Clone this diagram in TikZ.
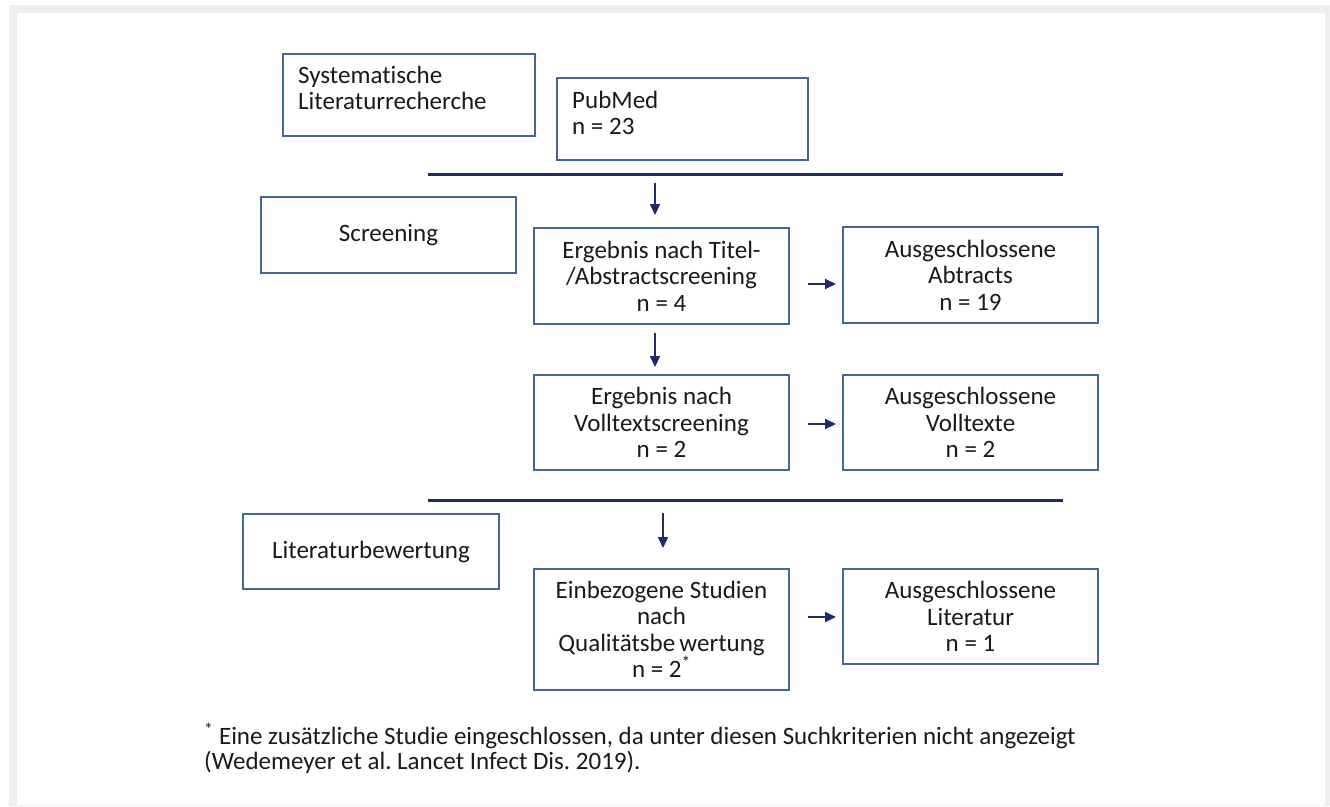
\documentclass[tikz,border=0pt]{standalone}
\usepackage{fontspec}
\setmainfont{Carlito}[Ligatures=NoCommon]
\usetikzlibrary{arrows.meta}
\definecolor{boxc}{HTML}{41669A}
\definecolor{navy}{HTML}{1F2A6B}
\definecolor{txt}{HTML}{1A1A1A}
\definecolor{framegray}{HTML}{EFEFEF}
\frenchspacing
\begin{document}
\begin{tikzpicture}[x=1pt,y=-1pt,
  box/.style={draw=boxc, line width=1.5pt, text=txt, align=center, inner sep=0pt,
    font=\fontsize{25}{26.5}\selectfont},
  plain/.style={text=txt, align=left, inner sep=0pt, font=\fontsize{25}{26}\selectfont},
  arr/.style={draw=navy, line width=2pt, -{Triangle[length=11pt,width=10pt]}},
  sepline/.style={draw=navy, line width=3pt}]
\useasboundingbox (0,0) rectangle (1330,806);
\fill[framegray] (9,5) rectangle (1330,806);
\fill[white] (17,13) rectangle (1325,805);

% boxes
\node[box, minimum width=252pt, minimum height=82pt] (sys) at (409,95) {};
\node[plain, anchor=north west] (systext) at (298,65) {\rule{0pt}{18pt}Systematische\\Literaturrecherche};
\node[box, minimum width=251pt, minimum height=82pt] (pub) at (682.5,119) {};
\node[plain, anchor=north west] (pubtext) at (572,90) {\rule{0pt}{18pt}PubMed\\n = 23};

\node[box, minimum width=255pt, minimum height=76pt] (scr) at (388.5,235) {Screening};
\node[box, minimum width=255pt, minimum height=96pt] (erg1) at (661.5,276) {Ergebnis nach Titel-\\/Abstractscreening\\n = 4};
\node[box, minimum width=255pt, minimum height=96pt] (aus1) at (970.5,275) {Ausgeschlossene\\Abtracts\\n = 19};
\node[box, minimum width=255pt, minimum height=95pt] (erg2) at (661.5,422.5) {Ergebnis nach\\Volltextscreening\\n = 2};
\node[box, minimum width=255pt, minimum height=95pt] (aus2) at (970.5,422.5) {Ausgeschlossene\\Volltexte\\n = 2};
\node[box, minimum width=256pt, minimum height=75pt] (lit) at (371,551.5) {Literaturbewertung};
\node[box, minimum width=255pt, minimum height=121pt] (ein) at (661.5,629.5) {Einbezogene Studien\\nach\\Qualitätsbe\,wertung\\n = 2\textsuperscript{*}};
\node[box, minimum width=255pt, minimum height=95pt] (aus3) at (970.5,616.5) {Ausgeschlossene\\Literatur\\n = 1};

% separator lines
\coordinate (s1a) at (428,174);
\coordinate (s1b) at (1063,174);
\coordinate (s2a) at (428,500);
\coordinate (s2b) at (1063,500);
\draw[sepline] (s1a) -- (s1b);
\draw[sepline] (s2a) -- (s2b);

% arrows
\coordinate (d1a) at (655,183);  \coordinate (d1b) at (655,215);
\coordinate (d2a) at (655,333);  \coordinate (d2b) at (655,367);
\coordinate (d3a) at (663,513);  \coordinate (d3b) at (663,548);
\coordinate (r1a) at (808,284);  \coordinate (r1b) at (836,284);
\coordinate (r2a) at (808,424);  \coordinate (r2b) at (836,424);
\coordinate (r3a) at (808,617);  \coordinate (r3b) at (836,617);
\draw[arr] (d1a) -- (d1b);
\draw[arr] (d2a) -- (d2b);
\draw[arr] (d3a) -- (d3b);
\draw[arr] (r1a) -- (r1b);
\draw[arr] (r2a) -- (r2b);
\draw[arr] (r3a) -- (r3b);

% footnote
\node[plain, anchor=north west, font=\fontsize{25}{25}\selectfont] (foot) at (204,723)
  {\rule{0pt}{18pt}\textsuperscript{*} Eine zusätzliche Studie eingeschlossen, da unter diesen Suchkriterien nicht angezeigt\\(Wedemeyer et al. Lancet Infect Dis. 2019).};
\end{tikzpicture}
\end{document}
